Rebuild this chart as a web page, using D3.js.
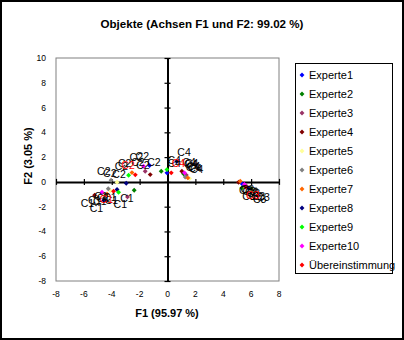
<!DOCTYPE html>
<html><head>
<meta charset="utf-8">
<script src="https://d3js.org/d3.v7.min.js"></script>
<style>
  body { margin: 0; background: #fff; }
  svg text { font-family: "Liberation Sans", Arial, sans-serif; }
</style>
</head>
<body>
<svg id="chart" width="404" height="340"></svg>
<script>
// objects (row labels) and the series: ten experts plus the consensus
const objects = ["C1", "C2", "C3", "C4"];
const series = ["Experte1", "Experte2", "Experte3", "Experte4", "Experte5",
                "Experte6", "Experte7", "Experte8", "Experte9", "Experte10", "Übereinstimmung"];
const colors = ["#0000ff", "#008000", "#993366", "#800000", "#ffff99",
                "#808080", "#ff6600", "#000080", "#00ff00", "#ff00ff", "#ff0000"];

// F1 / F2 coordinates, one row per series, columns C1..C4
const f1 = [
  [-4.58, -1.29, 5.35, -0.04],
  [-2.39, -0.45, 6.00, 1.15],
  [-2.87, -1.60, 5.65, 1.35],
  [-5.23, -1.24, 5.10, 1.03],
  [-4.10, -3.62, 6.10, 1.58],
  [-4.25, -4.05, 6.35, 1.27],
  [-4.34, -2.55, 5.22, 1.46],
  [-3.62, -2.96, 5.80, 0.67],
  [-3.51, -2.79, 5.33, -0.04],
  [-4.70, -1.72, 5.52, 1.22],
  [-3.87, -2.31, 5.60, 0.27]
];
const f2 = [
  [-1.49, 1.32, -0.15, 0.73],
  [-0.68, 0.86, -0.55, 0.65],
  [-1.21, 0.86, -0.32, 0.55],
  [-1.08, 0.59, -0.03, 0.86],
  [-0.72, -0.03, -0.75, 0.27],
  [-0.55, 0.13, -0.60, 0.40],
  [-0.97, 0.75, 0.05, 0.32],
  [-0.62, -0.11, -0.50, 1.64],
  [-0.84, 0.53, -0.50, 0.99],
  [-0.84, 1.26, -0.20, 0.73],
  [-0.76, 0.57, -0.42, 0.73]
];
const xTicks = [-8, -6, -4, -2, 0, 2, 4, 6, 8];
const yTicks = [-8, -6, -4, -2, 0, 2, 4, 6, 8, 10];

const svg = d3.select("#chart");

// outer frame
svg.append("rect")
  .attr("x", 1).attr("y", 1).attr("width", 402).attr("height", 338)
  .attr("fill", "#fff").attr("stroke", "#000").attr("stroke-width", 2);

const x = d3.scaleLinear().domain([-8, 8]).range([56, 279]);
const y = d3.scaleLinear().domain([-8, 10]).range([281, 58]);

// plot area
svg.append("rect")
  .attr("x", x(-8)).attr("y", y(10))
  .attr("width", x(8) - x(-8)).attr("height", y(-8) - y(10))
  .attr("fill", "#fff").attr("stroke", "#808080").attr("stroke-width", 1);

// axes crossing at the origin
svg.append("g")
  .attr("transform", `translate(0,${y(0)})`)
  .call(d3.axisBottom(x).tickValues(xTicks).tickSizeInner(0).tickSizeOuter(0).tickFormat(""))
  .call(g => g.select(".domain").attr("stroke-width", 2))
  .call(g => g.selectAll(".tick line").attr("y1", -3).attr("y2", 3).attr("stroke-width", 1.2));

svg.append("g")
  .attr("transform", `translate(${x(0)},0)`)
  .call(d3.axisLeft(y).tickValues(yTicks).tickSizeInner(0).tickSizeOuter(0).tickFormat(""))
  .call(g => g.select(".domain").attr("stroke-width", 2))
  .call(g => g.selectAll(".tick line").attr("x1", -3).attr("x2", 3).attr("stroke-width", 1.2));

// tick labels sit outside the plot area
svg.append("g").selectAll("text")
  .data(xTicks).join("text")
  .attr("x", d => x(d)).attr("y", 297)
  .attr("text-anchor", "middle").attr("font-size", 8.5)
  .text(d => d);

svg.append("g").selectAll("text")
  .data(yTicks).join("text")
  .attr("x", 46).attr("y", d => y(d) + 3)
  .attr("text-anchor", "end").attr("font-size", 8.5)
  .text(d => d);

// titles
svg.append("text")
  .attr("x", 202).attr("y", 28)
  .attr("text-anchor", "middle").attr("font-size", 11.6).attr("font-weight", "bold")
  .text("Objekte (Achsen F1 und F2: 99.02 %)");

svg.append("text")
  .attr("x", 167).attr("y", 317)
  .attr("text-anchor", "middle").attr("font-size", 11).attr("font-weight", "bold")
  .text("F1 (95.97 %)");

svg.append("text")
  .attr("transform", "translate(32,156) rotate(-90)")
  .attr("text-anchor", "middle").attr("font-size", 11).attr("font-weight", "bold")
  .text("F2 (3.05 %)");

// flatten into points
const points = [];
series.forEach((s, i) => {
  objects.forEach((o, j) => {
    points.push({ series: s, idx: i, obj: o, j: j, fx: f1[i][j], fy: f2[i][j] });
  });
});

const marker = d3.symbol().type(d3.symbolSquare).size(12);

svg.append("g").selectAll("path")
  .data(points).join("path")
  .attr("d", marker)
  .attr("transform", d => `translate(${x(d.fx)},${y(d.fy)}) rotate(45)`)
  .attr("fill", d => colors[d.idx]);

// object labels: C1/C3 below, C2/C4 above; C1/C2 to the left, C3/C4 to the right
const below = { C1: true, C2: false, C3: true, C4: false };
const left = { C1: true, C2: true, C3: false, C4: false };

svg.append("g").selectAll("text")
  .data(points).join("text")
  .attr("x", d => x(d.fx) + (left[d.obj] ? -0.5 : 0.5))
  .attr("y", d => y(d.fy) + (below[d.obj] ? 11.5 : -5.5))
  .attr("text-anchor", d => left[d.obj] ? "end" : "start")
  .attr("font-size", 10.5)
  .attr("fill", d => d.idx === series.length - 1 ? "#ff0000" : "#000")
  .text(d => d.obj);

// legend
const legend = svg.append("g");
legend.append("rect")
  .attr("x", 295.5).attr("y", 63.5).attr("width", 97).attr("height", 210)
  .attr("fill", "#fff").attr("stroke", "#000").attr("stroke-width", 1);

const items = legend.selectAll("g.item")
  .data(series).join("g")
  .attr("class", "item")
  .attr("transform", (d, i) => `translate(0,${75 + i * 19})`);

items.append("path")
  .attr("d", marker)
  .attr("transform", "translate(302,0) rotate(45)")
  .attr("fill", (d, i) => colors[i]);

items.append("text")
  .attr("x", 309).attr("y", 4)
  .attr("font-size", 11)
  .text(d => d);
</script>
</body>
</html>
